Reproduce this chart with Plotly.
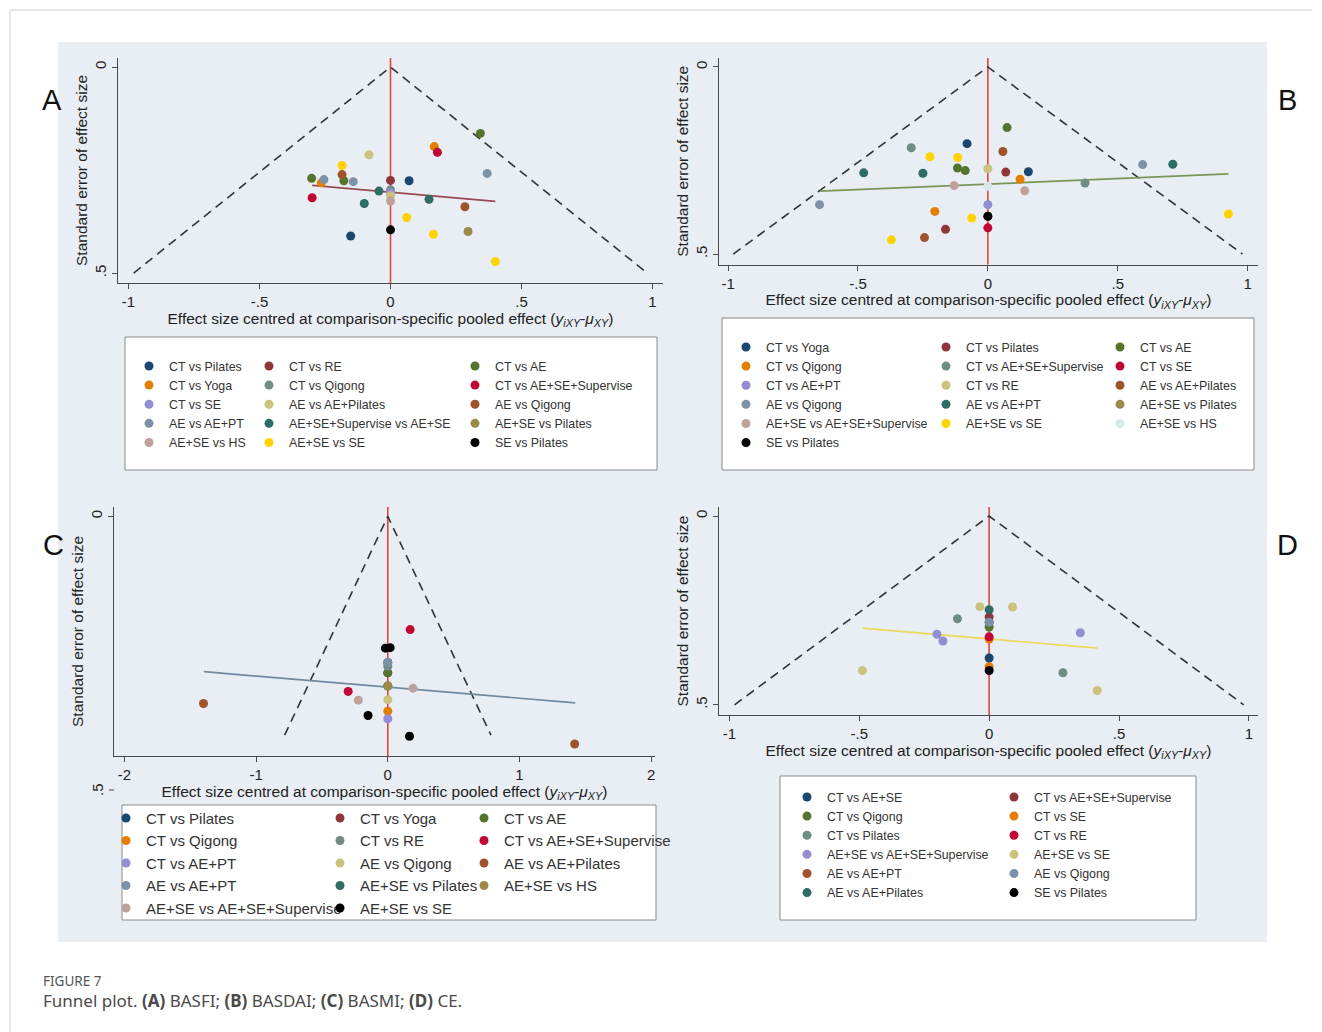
import plotly.graph_objects as go

W, H = 1322, 1032
FONT = "Liberation Sans, Arial, Helvetica, sans-serif"
Z = 1.96  # pseudo 95% confidence limits of the funnel

# Stata s2color marker palette; the last comparison in each panel is black
PALETTE = ["#1a476f", "#90353b", "#55752f", "#e37e00", "#6e8e84", "#c10534",
           "#938dd2", "#cac27e", "#a0522d", "#7b92a8", "#2d6d66", "#9c8847",
           "#bfa19c", "#ffd200", "#d9e6eb"]

# ---------------- (A) BASFI ----------------
a_names = ["CT vs Pilates", "CT vs RE", "CT vs AE",
           "CT vs Yoga", "CT vs Qigong", "CT vs AE+SE+Supervise",
           "CT vs SE", "AE vs AE+Pilates", "AE vs Qigong",
           "AE vs AE+PT", "AE+SE+Supervise vs AE+SE", "AE+SE vs Pilates",
           "AE+SE vs HS", "AE+SE vs SE", "SE vs Pilates"]
a_x = [[0.071, -0.152], [0.0], [0.343, -0.301, -0.178],
       [0.167, -0.264], [0.0], [0.179, -0.299],
       [0.0], [-0.082, 0.0], [-0.185, 0.284],
       [-0.254, -0.142, 0.369], [-0.044, 0.147, -0.100], [0.296],
       [0.0], [-0.185, 0.062, 0.164, 0.400], [0.0]]
a_y = [[0.276, 0.410], [0.275], [0.161, 0.270, 0.276],
       [0.193, 0.281], [0.298], [0.207, 0.317],
       [0.305], [0.213, 0.312], [0.261, 0.339],
       [0.273, 0.278, 0.258], [0.301, 0.321, 0.331], [0.399],
       [0.325], [0.239, 0.365, 0.406, 0.472], [0.395]]
a_fit_x = [-0.299, 0.400]
a_fit_y = [0.287, 0.326]
a_se_max = 0.5

# ---------------- (B) BASDAI ----------------
b_names = ["CT vs Yoga", "CT vs Pilates", "CT vs AE",
           "CT vs Qigong", "CT vs AE+SE+Supervise", "CT vs SE",
           "CT vs AE+PT", "CT vs RE", "AE vs AE+Pilates",
           "AE vs Qigong", "AE vs AE+PT", "AE+SE vs Pilates",
           "AE+SE vs AE+SE+Supervise", "AE+SE vs SE", "AE+SE vs HS",
           "SE vs Pilates"]
b_x = [[-0.080, 0.156], [0.069, -0.163], [0.074, -0.117, -0.087],
       [0.124, -0.204], [-0.295, 0.374], [0.0],
       [0.0], [0.0], [0.058, -0.244],
       [0.596, -0.648], [0.712, -0.478, -0.250], [0.0],
       [-0.130, 0.142], [-0.223, -0.116, -0.062, -0.371, 0.926], [0.0],
       [0.0]]
b_y = [[0.205, 0.280], [0.281, 0.434], [0.162, 0.270, 0.277],
       [0.300, 0.386], [0.216, 0.310], [0.430],
       [0.368], [0.272], [0.226, 0.456],
       [0.261, 0.368], [0.260, 0.283, 0.284], [0.399],
       [0.317, 0.331], [0.240, 0.242, 0.404, 0.462, 0.393], [0.319],
       [0.399]]
b_fit_x = [-0.645, 0.926]
b_fit_y = [0.332, 0.286]
b_se_max = 0.5

# ---------------- (C) BASMI ----------------
c_names = ["CT vs Pilates", "CT vs Yoga", "CT vs AE",
           "CT vs Qigong", "CT vs RE", "CT vs AE+SE+Supervise",
           "CT vs AE+PT", "AE vs Qigong", "AE vs AE+Pilates",
           "AE vs AE+PT", "AE+SE vs Pilates", "AE+SE vs HS",
           "AE+SE vs AE+SE+Supervise", "AE+SE vs SE"]
c_x = [[0.0], [0.0], [0.0],
       [0.0], [0.0], [0.170, -0.301],
       [0.0], [0.0], [-1.400, 1.420],
       [0.0], [0.0], [0.0],
       [0.192, -0.224], [-0.018, 0.018, -0.150, 0.165]]
c_y = [[0.267], [0.286], [0.286],
       [0.356], [0.274], [0.207, 0.320],
       [0.370], [0.335], [0.342, 0.416],
       [0.267], [0.310], [0.310],
       [0.314, 0.336], [0.241, 0.240, 0.364, 0.402]]
c_fit_x = [-1.397, 1.424]
c_fit_y = [0.284, 0.341]
c_se_max = 0.4

# ---------------- (D) CE ----------------
d_names = ["CT vs AE+SE", "CT vs AE+SE+Supervise",
           "CT vs Qigong", "CT vs SE",
           "CT vs Pilates", "CT vs RE",
           "AE+SE vs AE+SE+Supervise", "AE+SE vs SE",
           "AE vs AE+PT", "AE vs Qigong",
           "AE vs AE+Pilates", "SE vs Pilates"]
d_x = [[0.0], [0.0],
       [0.0], [0.0, 0.0],
       [-0.122, 0.284], [0.0],
       [-0.201, -0.178, 0.351], [-0.036, 0.090, -0.488, 0.416],
       [0.0], [0.0],
       [0.0], [0.0]]
d_y = [[0.376], [0.267],
       [0.294], [0.326, 0.399],
       [0.272, 0.415], [0.320],
       [0.313, 0.331, 0.309], [0.240, 0.241, 0.409, 0.462],
       [0.281], [0.281],
       [0.248], [0.409]]
d_fit_x = [-0.488, 0.416]
d_fit_y = [0.297, 0.350]
d_se_max = 0.5

# axis ticks
x_ticks_unit = [-1, -0.5, 0, 0.5, 1]
x_ticks_unit_text = ["-1", "-.5", "0", ".5", "1"]
x_ticks_wide = [-2, -1, 0, 1, 2]
x_ticks_wide_text = ["-2", "-1", "0", "1", "2"]
y_ticks = [0, 0.5]
y_ticks_text = ["0", ".5"]

X_TITLE = ("Effect size centred at comparison-specific pooled effect "
           "(<i>y</i><sub><i>iXY</i></sub>-<i>\u03bc</i><sub><i>XY</i></sub>)")
Y_TITLE = "Standard error of effect size"


def px_x(p):
    return p / W


def px_y(p):
    return 1 - p / H


panels = [
    dict(letter="A", letter_xy=(52, 100), names=a_names, xs=a_x, ys=a_y,
         fit_x=a_fit_x, fit_y=a_fit_y, fit_color="#9b4950", se=a_se_max,
         xdom=(118, 663), ydom=(58, 283), xr=[-1.04, 1.04], yr=[0.524, -0.022],
         xt=x_ticks_unit, xtt=x_ticks_unit_text,
         box=(125, 337, 657, 470), cols=[152, 272, 478], row1=366, lfont=12.4),
    dict(letter="B", letter_xy=(1287, 100), names=b_names, xs=b_x, ys=b_y,
         fit_x=b_fit_x, fit_y=b_fit_y, fit_color="#7a9656", se=b_se_max,
         xdom=(719, 1258), ydom=(58, 264.5), xr=[-1.035, 1.04], yr=[0.528, -0.024],
         xt=x_ticks_unit, xtt=x_ticks_unit_text,
         box=(722, 318, 1254, 470), cols=[749, 949, 1123], row1=347, lfont=12.4),
    dict(letter="C", letter_xy=(53, 545), names=c_names, xs=c_x, ys=c_y,
         fit_x=c_fit_x, fit_y=c_fit_y, fit_color="#7189a0", se=c_se_max,
         xdom=(114, 655), ydom=(507, 756), xr=[-2.08, 2.03], yr=[0.438, -0.017],
         xt=x_ticks_wide, xtt=x_ticks_wide_text,
         box=(122, 805, 656, 920), cols=[129, 343, 487], row1=818, lfont=15),
    dict(letter="D", letter_xy=(1287, 545), names=d_names, xs=d_x, ys=d_y,
         fit_x=d_fit_x, fit_y=d_fit_y, fit_color="#ebd85c", se=d_se_max,
         xdom=(719, 1258), ydom=(507, 715), xr=[-1.04, 1.035], yr=[0.527, -0.024],
         xt=x_ticks_unit, xtt=x_ticks_unit_text,
         box=(780, 776, 1196, 920), cols=[810, 1017], row1=797, lfont=12.4),
]

fig = go.Figure()
shapes = [
    # light graph region behind the four panels
    dict(type="rect", xref="paper", yref="paper", x0=px_x(58), x1=px_x(1267),
         y0=px_y(942), y1=px_y(42), fillcolor="#e8eef3", line=dict(width=0),
         layer="below"),
    # page frame
    dict(type="line", xref="paper", yref="paper", x0=px_x(10), x1=px_x(1312),
         y0=px_y(10), y1=px_y(10), line=dict(color="#d2d2d2", width=1)),
    dict(type="line", xref="paper", yref="paper", x0=px_x(10), x1=px_x(10),
         y0=px_y(10), y1=0, line=dict(color="#d2d2d2", width=1)),
]
annotations = []
layout_extra = {}
leg_count = 0

axis_common = dict(showline=True, linecolor="#4a4a4a", linewidth=1,
                   ticks="outside", ticklen=5, tickcolor="#4a4a4a",
                   showgrid=False, zeroline=False, fixedrange=True,
                   tickfont=dict(family=FONT, size=15, color="#222"))

for i, p in enumerate(panels):
    sfx = "" if i == 0 else str(i + 1)
    xref, yref = "x" + sfx, "y" + sfx

    se = p["se"]
    fig.add_trace(go.Scatter(
        x=[-Z * se, 0, Z * se], y=[se, 0, se], mode="lines",
        line=dict(color="#333333", width=1.6, dash="9px,6px"),
        xaxis=xref, yaxis=yref, showlegend=False, hoverinfo="skip"))
    fig.add_trace(go.Scatter(
        x=p["fit_x"], y=p["fit_y"], mode="lines",
        line=dict(color=p["fit_color"], width=1.7),
        xaxis=xref, yaxis=yref, showlegend=False, hoverinfo="skip"))
    # line of no difference
    shapes.append(dict(type="line", xref=xref, yref=yref + " domain",
                       x0=0, x1=0, y0=0, y1=1,
                       line=dict(color="#e0463c", width=1.6), layer="below"))

    # legend frame
    bx0, by0, bx1, by1 = p["box"]
    shapes.append(dict(type="rect", xref="paper", yref="paper",
                       x0=px_x(bx0), x1=px_x(bx1), y0=px_y(by1), y1=px_y(by0),
                       fillcolor="white", line=dict(color="#8a8a8a", width=1),
                       layer="below"))

    ncols = len(p["cols"])
    fs = p["lfont"]
    item_h = max(fs * 1.3, 16) + 3
    leg_ids = []
    for c in range(ncols):
        leg_count += 1
        lid = "legend" if leg_count == 1 else f"legend{leg_count}"
        leg_ids.append(lid)
        layout_extra[lid] = dict(
            x=px_x(p["cols"][c] - 23), y=px_y(p["row1"] - 5 - item_h / 2),
            xanchor="left", yanchor="top", orientation="v",
            bgcolor="rgba(0,0,0,0)", borderwidth=0, tracegroupgap=0,
            font=dict(family=FONT, size=fs, color="#333"),
            itemclick=False, itemdoubleclick=False)

    names = p["names"]
    for k, name in enumerate(names):
        color = "#000000" if k == len(names) - 1 else PALETTE[k]
        fig.add_trace(go.Scatter(
            x=p["xs"][k], y=p["ys"][k], mode="markers", name=name,
            marker=dict(color=color, size=9, line=dict(width=0)),
            xaxis=xref, yaxis=yref, legend=leg_ids[k % ncols]))

    xd, yd = p["xdom"], p["ydom"]
    layout_extra["xaxis" + sfx] = dict(
        axis_common, domain=[px_x(xd[0]), px_x(xd[1])], range=p["xr"],
        anchor=yref, tickvals=p["xt"], ticktext=p["xtt"],
        title=dict(text=X_TITLE, standoff=3,
                   font=dict(family=FONT, size=15.5, color="#222")))
    layout_extra["yaxis" + sfx] = dict(
        axis_common, domain=[px_y(yd[1]), px_y(yd[0])], range=p["yr"],
        anchor=xref, tickvals=y_ticks, ticktext=y_ticks_text, tickangle=-90,
        title=dict(text=Y_TITLE, standoff=0,
                   font=dict(family=FONT, size=15.5, color="#222")))

    lx, ly = p["letter_xy"]
    annotations.append(dict(text=p["letter"], x=px_x(lx), y=px_y(ly),
                            xref="paper", yref="paper", showarrow=False,
                            xanchor="center", yanchor="middle",
                            font=dict(family=FONT, size=29, color="#111")))

# panel C: the .5 tick sits below the plot region
annotations.append(dict(text=".5", x=px_x(97), y=px_y(790), xref="paper",
                        yref="paper", showarrow=False, textangle=-90,
                        xanchor="center", yanchor="middle",
                        font=dict(family=FONT, size=15, color="#222")))
shapes.append(dict(type="line", xref="paper", yref="paper",
                   x0=px_x(109), x1=px_x(114), y0=px_y(790), y1=px_y(790),
                   line=dict(color="#4a4a4a", width=1)))

# caption
annotations.append(dict(text="FIGURE 7", x=px_x(41), y=px_y(981),
                        xref="paper", yref="paper", showarrow=False,
                        xanchor="left", yanchor="middle",
                        font=dict(family="Noto Sans", size=13.5, color="#555")))
annotations.append(dict(
    text="Funnel plot. <b>(A)</b> BASFI; <b>(B)</b> BASDAI; "
         "<b>(C)</b> BASMI; <b>(D)</b> CE.",
    x=px_x(41), y=px_y(1000), xref="paper", yref="paper", showarrow=False,
    xanchor="left", yanchor="middle",
    font=dict(family="Noto Sans", size=17, color="#4a4a4a")))

fig.update_layout(
    width=W, height=H, margin=dict(l=0, r=0, t=0, b=0, pad=0),
    paper_bgcolor="white", plot_bgcolor="white",
    showlegend=True, shapes=shapes, annotations=annotations,
    font=dict(family=FONT, color="#222"),
    **layout_extra)

fig.write_html("out.html", config={"displayModeBar": False})
